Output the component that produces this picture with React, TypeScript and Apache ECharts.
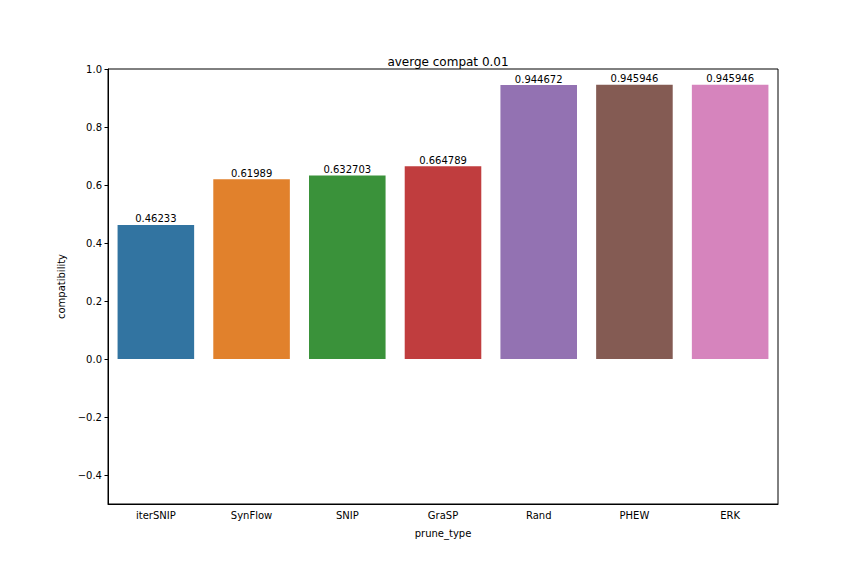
import React, { useEffect, useRef } from "react";
import * as echarts from "echarts";

const categories = ["iterSNIP", "SynFlow", "SNIP", "GraSP", "Rand", "PHEW", "ERK"];
const values = [0.46233, 0.61989, 0.632703, 0.664789, 0.944672, 0.945946, 0.945946];
const colors = ["#3274a1", "#e1812c", "#3a923a", "#c03d3e", "#9372b2", "#845b53", "#d684bd"];
const yTicks = [-0.4, -0.2, 0, 0.2, 0.4, 0.6, 0.8, 1.0];

const App: React.FC = () => {
  const ref = useRef<HTMLDivElement>(null);

  useEffect(() => {
    if (!ref.current) return;
    const chart = echarts.init(ref.current, null, { renderer: "svg" });
    const font = "DejaVu Sans";
    chart.setOption({
      animation: false,
      textStyle: { fontFamily: font },
      title: {
        text: "averge compat 0.01",
        left: 443,
        top: 51,
        textAlign: "center",
        textStyle: { fontFamily: font, fontSize: 12, fontWeight: "normal", color: "#000" },
      },
      grid: {
        left: 108,
        right: 86,
        top: 69,
        bottom: 72,
        show: true,
        borderColor: "#000",
        borderWidth: 1,
        backgroundColor: "transparent",
      },
      xAxis: {
        type: "category",
        data: categories,
        name: "prune_type",
        nameLocation: "middle",
        nameGap: 24,
        nameTextStyle: { fontFamily: font, fontSize: 10, color: "#000" },
        axisLine: { onZero: false, lineStyle: { color: "#000" } },
        axisTick: { alignWithLabel: true, length: 3.5, lineStyle: { color: "#000" } },
        axisLabel: { fontFamily: font, fontSize: 10, color: "#000", margin: 6 },
      },
      yAxis: {
        type: "value",
        min: -0.5,
        max: 1.0,
        name: "compatibility",
        nameLocation: "middle",
        nameGap: 40,
        nameTextStyle: { fontFamily: font, fontSize: 10, color: "#000" },
        splitLine: { show: false },
        axisLine: { show: true, lineStyle: { color: "#000" } },
        axisTick: { show: true, length: 3.5, customValues: yTicks, lineStyle: { color: "#000" } },
        axisLabel: {
          fontFamily: font,
          fontSize: 10,
          color: "#000",
          margin: 6,
          customValues: yTicks,
          formatter: (v: number) => (v < 0 ? "\u2212" + Math.abs(v).toFixed(1) : v.toFixed(1)),
        },
      },
      series: [
        {
          type: "bar",
          barCategoryGap: "20%",
          data: values.map((v, i) => ({ value: v, itemStyle: { color: colors[i] } })),
          label: {
            show: true,
            position: "top",
            distance: 1,
            fontFamily: font,
            fontSize: 10,
            color: "#000",
            formatter: (p: any) => String(p.value),
          },
        },
      ],
    });
    return () => chart.dispose();
  }, []);

  return (
    <div
      ref={ref}
      style={{ position: "fixed", left: 0, top: 0, width: 864, height: 576, background: "#fff" }}
    />
  );
};

export default App;
